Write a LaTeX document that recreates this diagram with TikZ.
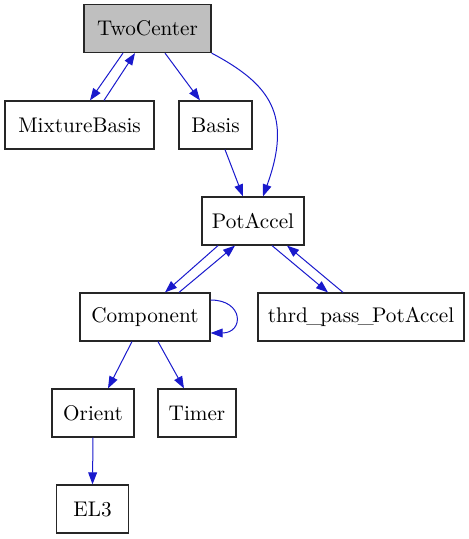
\documentclass[tikz,border=0pt]{standalone}
\usepackage{tikz}
\usetikzlibrary{arrows.meta}

\definecolor{edgeblue}{rgb}{0.1,0.1,0.8}
\definecolor{boxgray}{rgb}{0.75,0.75,0.75}

\begin{document}
\begin{tikzpicture}[x=0.5pt, y=-0.5pt,
    box/.style={rectangle, draw=black!85, line width=0.6pt, inner sep=0pt, minimum height=24pt, font=\fontsize{10.6}{12}\selectfont},
    link/.style={draw=edgeblue, line width=0.5pt, -{Triangle[length=6pt, width=4.4pt]}}]
                    \useasboundingbox (0,0) rectangle (469,539);
                    \node[box, fill=boxgray, minimum width=63.5pt] (TwoCenter) at (147.5, 28.5) {TwoCenter};
                    \node[box, minimum width=74.5pt] (MixtureBasis) at (79.5, 125) {MixtureBasis};
                    \node[box, minimum width=36.5pt] (Basis) at (215.5, 125) {Basis};
                    \node[box, minimum width=51pt] (PotAccel) at (253, 221) {PotAccel};
                    \node[box, minimum width=65pt] (Component) at (145, 317) {Component};
                    \node[box, minimum width=103pt] (thrd) at (361, 317) {thrd\kern-0.08em\_\kern-0.08em pass\kern-0.08em\_\kern-0.08em PotAccel};
                    \node[box, minimum width=41pt] (Orient) at (93, 413) {Orient};
                    \node[box, minimum width=39pt] (Timer) at (197, 413) {Timer};
                    \node[box, minimum width=36pt] (EL3) at (92.5, 509) {EL3};
                    \draw[link] ([xshift=-12.25pt]TwoCenter.south) -- ([xshift=5.25pt]MixtureBasis.north);
                    \draw[link] ([xshift=12.25pt]MixtureBasis.north) -- ([xshift=-6.25pt]TwoCenter.south);
                    \draw[link] ([xshift=8.75pt]TwoCenter.south) -- ([xshift=-7.75pt]Basis.north);
                    \draw[link] ([xshift=4.75pt]Basis.south) -- ([xshift=-5pt]PotAccel.north);
                    \draw[link] (TwoCenter.south east) to[out=-28, in=70, out distance=33pt, in distance=43.5pt] ([xshift=5pt]PotAccel.north);
                    \draw[link] ([xshift=-17.5pt]PotAccel.south) -- ([xshift=10pt]Component.north);
                    \draw[link] ([xshift=17pt]Component.north) -- ([xshift=-9pt]PotAccel.south);
                    \draw[link] ([xshift=9.5pt]PotAccel.south) -- ([xshift=-16.5pt]thrd.north);
                    \draw[link] ([xshift=-9pt]thrd.north) -- ([xshift=17pt]PotAccel.south);
                    \draw[link] ([yshift=8.5pt]Component.east) to[out=0, in=0, looseness=2.6] ([yshift=-8pt]Component.east);
                    \draw[link] ([xshift=-6.5pt]Component.south) -- ([xshift=7.5pt]Orient.north);
                    \draw[link] ([xshift=6.5pt]Component.south) -- ([xshift=-6.5pt]Timer.north);
                    \draw[link] (Orient.south) -- (EL3.north);
                \end{tikzpicture}
\end{document}
